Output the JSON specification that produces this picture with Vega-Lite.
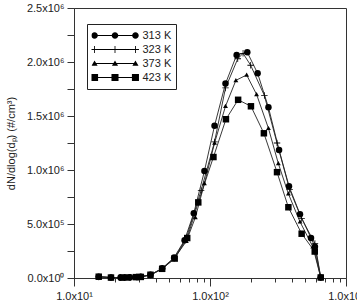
{
  "$schema": "https://vega.github.io/schema/vega-lite/v6.json",
  "width": 272,
  "height": 270,
  "autosize": "none",
  "padding": {"left": 74, "top": 8, "right": 11, "bottom": 30},
  "background": "white",
  "config": {
    "font": "Liberation Sans",
    "view": {"stroke": "#333", "strokeWidth": 1},
    "axis": {"domainColor": "#333", "tickColor": "#333", "labelColor": "#222", "titleColor": "#222", "labelFontSize": 11, "titleFontSize": 11, "titleFontWeight": "normal", "grid": false}
  },
  "data": {"values": [
    {"s": "313 K", "d": 15.2, "n": 12000}, {"s": "313 K", "d": 18.7, "n": 5000}, {"s": "313 K", "d": 22, "n": 4000}, {"s": "313 K", "d": 23.5, "n": 5000}, {"s": "313 K", "d": 25.8, "n": 6000}, {"s": "313 K", "d": 29, "n": 10000}, {"s": "313 K", "d": 31, "n": 12000}, {"s": "313 K", "d": 36.5, "n": 30000}, {"s": "313 K", "d": 44.5, "n": 90000}, {"s": "313 K", "d": 54.5, "n": 190000}, {"s": "313 K", "d": 65, "n": 350000}, {"s": "313 K", "d": 76, "n": 600000}, {"s": "313 K", "d": 91, "n": 990000}, {"s": "313 K", "d": 108, "n": 1410000}, {"s": "313 K", "d": 130, "n": 1800000}, {"s": "313 K", "d": 157, "n": 2065000}, {"s": "313 K", "d": 188, "n": 2090000}, {"s": "313 K", "d": 224, "n": 1895000}, {"s": "313 K", "d": 269, "n": 1580000}, {"s": "313 K", "d": 322, "n": 1185000}, {"s": "313 K", "d": 381, "n": 850000}, {"s": "313 K", "d": 459, "n": 590000}, {"s": "313 K", "d": 553, "n": 370000}, {"s": "313 K", "d": 591, "n": 290000}, {"s": "313 K", "d": 652, "n": 5000},
    {"s": "323 K", "d": 15.2, "n": 10000}, {"s": "323 K", "d": 18.7, "n": 4000}, {"s": "323 K", "d": 22, "n": 4000}, {"s": "323 K", "d": 23.5, "n": 5000}, {"s": "323 K", "d": 25.8, "n": 6000}, {"s": "323 K", "d": 29, "n": 9000}, {"s": "323 K", "d": 31, "n": 11000}, {"s": "323 K", "d": 36.5, "n": 28000}, {"s": "323 K", "d": 44.5, "n": 85000}, {"s": "323 K", "d": 54.5, "n": 180000}, {"s": "323 K", "d": 67, "n": 370000}, {"s": "323 K", "d": 86, "n": 810000}, {"s": "323 K", "d": 108, "n": 1260000}, {"s": "323 K", "d": 130, "n": 1760000}, {"s": "323 K", "d": 160, "n": 2030000}, {"s": "323 K", "d": 175, "n": 2080000}, {"s": "323 K", "d": 199, "n": 1970000}, {"s": "323 K", "d": 251, "n": 1690000}, {"s": "323 K", "d": 311, "n": 1250000}, {"s": "323 K", "d": 385, "n": 820000}, {"s": "323 K", "d": 472, "n": 550000}, {"s": "323 K", "d": 591, "n": 320000}, {"s": "323 K", "d": 652, "n": 5000},
    {"s": "373 K", "d": 15.2, "n": 10000}, {"s": "373 K", "d": 18.7, "n": 4000}, {"s": "373 K", "d": 22, "n": 4000}, {"s": "373 K", "d": 23.5, "n": 5000}, {"s": "373 K", "d": 25.8, "n": 6000}, {"s": "373 K", "d": 29, "n": 9000}, {"s": "373 K", "d": 31, "n": 11000}, {"s": "373 K", "d": 36.5, "n": 27000}, {"s": "373 K", "d": 44.5, "n": 85000}, {"s": "373 K", "d": 54.5, "n": 180000}, {"s": "373 K", "d": 67, "n": 340000}, {"s": "373 K", "d": 78, "n": 560000}, {"s": "373 K", "d": 91, "n": 875000}, {"s": "373 K", "d": 108, "n": 1250000}, {"s": "373 K", "d": 130, "n": 1590000}, {"s": "373 K", "d": 155, "n": 1830000}, {"s": "373 K", "d": 186, "n": 1880000}, {"s": "373 K", "d": 220, "n": 1700000}, {"s": "373 K", "d": 269, "n": 1386000}, {"s": "373 K", "d": 318, "n": 1060000}, {"s": "373 K", "d": 377, "n": 780000}, {"s": "373 K", "d": 459, "n": 520000}, {"s": "373 K", "d": 570, "n": 290000}, {"s": "373 K", "d": 652, "n": 5000},
    {"s": "423 K", "d": 15.2, "n": 12000}, {"s": "423 K", "d": 18.7, "n": 4000}, {"s": "423 K", "d": 22.5, "n": 4000}, {"s": "423 K", "d": 25, "n": 5000}, {"s": "423 K", "d": 28.5, "n": 8000}, {"s": "423 K", "d": 31, "n": 10000}, {"s": "423 K", "d": 36.5, "n": 30000}, {"s": "423 K", "d": 44.5, "n": 85000}, {"s": "423 K", "d": 55, "n": 180000}, {"s": "423 K", "d": 68, "n": 370000}, {"s": "423 K", "d": 82, "n": 700000}, {"s": "423 K", "d": 106, "n": 1120000}, {"s": "423 K", "d": 131, "n": 1470000}, {"s": "423 K", "d": 161, "n": 1650000}, {"s": "423 K", "d": 200, "n": 1590000}, {"s": "423 K", "d": 249, "n": 1340000}, {"s": "423 K", "d": 311, "n": 980000}, {"s": "423 K", "d": 377, "n": 655000}, {"s": "423 K", "d": 472, "n": 410000}, {"s": "423 K", "d": 589, "n": 245000}, {"s": "423 K", "d": 652, "n": 5000}
  ]},
  "encoding": {
    "x": {
      "field": "d", "type": "quantitative",
      "scale": {"type": "log", "domain": [10, 1000], "nice": false},
      "axis": {
        "title": null,
        "values": [10, 20, 30, 40, 50, 60, 70, 80, 90, 100, 200, 300, 400, 500, 600, 700, 800, 900, 1000],
        "labelExpr": "datum.value == 10 ? '1.0x10¹' : datum.value == 100 ? '1.0x10²' : datum.value == 1000 ? '1.0x10³' : ''",
        "tickSize": {"condition": {"test": "datum.value == 10 || datum.value == 100 || datum.value == 1000", "value": 8}, "value": 4},
        "labelFlush": false, "labelOverlap": false, "labelBound": false,
        "labelPadding": 4
      }
    },
    "y": {
      "field": "n", "type": "quantitative",
      "scale": {"domain": [0, 2500000], "nice": false, "zero": true},
      "axis": {
        "title": "dN/dlog(dₚ) (#/cm³)",
        "titleX": -58, "titleY": 135, "titleAngle": -90, "titleAlign": "center", "titleBaseline": "bottom",
        "values": [0, 250000, 500000, 750000, 1000000, 1250000, 1500000, 1750000, 2000000, 2250000, 2500000],
        "labelExpr": "datum.value % 500000 != 0 ? '' : datum.value == 0 ? '0.0x10⁰' : datum.value < 1000000 ? '5.0x10⁵' : format(datum.value / 1000000, '.1f') + 'x10⁶'",
        "tickSize": 7, "labelPadding": 3, "labelOverlap": false, "labelFlush": false
      }
    }
  },
  "resolve": {"scale": {"shape": "independent"}, "legend": {"shape": "independent"}},
  "layer": [
    {
      "mark": {"type": "line", "color": "#222", "strokeWidth": 0.9},
      "encoding": {"detail": {"field": "s"}}
    },
    {
      "mark": {"type": "point", "filled": true, "color": "black", "size": 42, "opacity": 1},
      "encoding": {
        "shape": {
          "field": "s", "type": "nominal", "legend": null,
          "scale": {"domain": ["313 K", "323 K", "373 K", "423 K"], "range": ["circle", "M-1,-0.12H-0.12V-1H0.12V-0.12H1V0.12H0.12V1H-0.12V0.12H-1Z", "M0,-0.75L0.75,0.55L-0.75,0.55Z", "square"]}
        }
      }
    },
    {
      "mark": {"type": "point", "filled": true, "color": "black", "opacity": 0},
      "encoding": {
        "shape": {
          "field": "s", "type": "nominal",
          "scale": {"domain": ["313 K", "323 K", "373 K", "423 K"], "range": [
            "M-0.87,-0.02H0.87V0.02H-0.87Z M-1.01,0A0.14,0.14 0 1,1 -0.73,0A0.14,0.14 0 1,1 -1.01,0Z M-0.14,0A0.14,0.14 0 1,1 0.14,0A0.14,0.14 0 1,1 -0.14,0Z M0.73,0A0.14,0.14 0 1,1 1.01,0A0.14,0.14 0 1,1 0.73,0Z",
            "M-0.87,-0.02H0.87V0.02H-0.87Z M-1.02,-0.018H-0.888V-0.15H-0.852V-0.018H-0.72V0.018H-0.852V0.15H-0.888V0.018H-1.02Z M-0.15,-0.018H-0.018V-0.15H0.018V-0.018H0.15V0.018H0.018V0.15H-0.018V0.018H-0.15Z M0.72,-0.018H0.852V-0.15H0.888V-0.018H1.02V0.018H0.888V0.15H0.852V0.018H0.72Z",
            "M-0.87,-0.02H0.87V0.02H-0.87Z M-0.87,-0.13L-0.74,0.1L-1,0.1Z M0,-0.13L0.13,0.1L-0.13,0.1Z M0.87,-0.13L1,0.1L0.74,0.1Z",
            "M-0.87,-0.02H0.87V0.02H-0.87Z M-1.02,-0.15H-0.72V0.15H-1.02Z M-0.15,-0.15H0.15V0.15H-0.15Z M0.72,-0.15H1.02V0.15H0.72Z"
          ]},
          "legend": {
            "title": null,
            "orient": "none", "legendX": 13, "legendY": 16,
            "strokeColor": "#222", "padding": 4.5,
            "symbolSize": 2209, "symbolFillColor": "black", "symbolStrokeColor": "black", "symbolStrokeWidth": 0, "symbolOpacity": 1,
            "clipHeight": 14,
            "labelFontSize": 11, "labelColor": "#222", "labelOffset": 4, "rowPadding": 0
          }
        }
      }
    }
  ]
}
